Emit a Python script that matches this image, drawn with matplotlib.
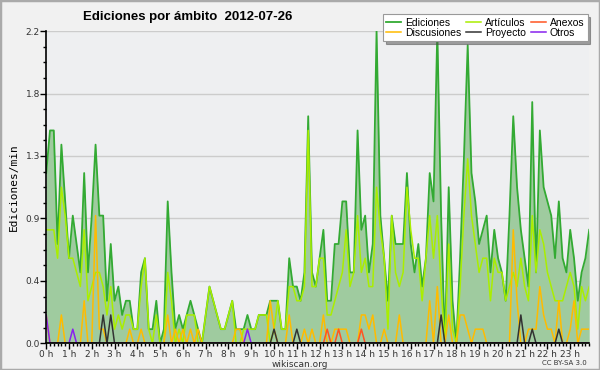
import numpy as np
import matplotlib
matplotlib.use('Agg')
import matplotlib.pyplot as plt
from matplotlib.patches import Rectangle
from matplotlib.ticker import MultipleLocator, FixedLocator

# edits per minute, one value every 10 minutes (144 per day)
ediciones = [1.2,1.5,1.5,0.7,1.4,1.0,0.6,0.9,0.7,0.5,1.2,0.5,
             0.9,1.4,0.9,0.9,0.3,0.7,0.3,0.4,0.2,0.3,0.3,0.1,
             0.1,0.5,0.6,0.1,0.1,0.3,0.0,0.1,1.0,0.5,0.1,0.2,
             0.1,0.2,0.3,0.2,0.1,0.0,0.2,0.4,0.3,0.2,0.1,0.1,
             0.2,0.3,0.1,0.1,0.1,0.2,0.1,0.1,0.2,0.2,0.2,0.3,
             0.3,0.3,0.1,0.1,0.6,0.4,0.4,0.3,0.5,1.6,0.5,0.4,
             0.6,0.8,0.3,0.3,0.7,0.7,1.0,1.0,0.5,0.5,1.5,0.8,
             0.9,0.5,0.7,2.2,0.9,0.6,0.3,0.9,0.7,0.7,0.7,1.2,
             0.7,0.5,0.7,0.4,0.6,1.2,1.0,2.2,0.9,0.0,1.1,0.3,
             0.0,0.6,1.3,2.1,1.2,1.0,0.7,0.8,0.9,0.5,0.8,0.6,
             0.5,0.3,0.9,1.6,1.1,0.8,0.6,0.4,1.7,0.5,1.5,1.1,
             1.0,0.9,0.6,1.0,0.6,0.5,0.8,0.6,0.3,0.5,0.6,0.8]

articulos = [0.8,0.8,0.8,0.6,1.1,0.9,0.6,0.6,0.5,0.4,0.8,0.3,
             0.4,0.5,0.5,0.4,0.2,0.4,0.1,0.2,0.1,0.2,0.2,0.1,
             0.1,0.4,0.6,0.1,0.0,0.2,0.0,0.0,0.5,0.3,0.0,0.1,
             0.0,0.2,0.2,0.2,0.0,0.0,0.2,0.4,0.3,0.2,0.1,0.1,
             0.2,0.3,0.0,0.0,0.1,0.1,0.1,0.1,0.2,0.2,0.2,0.0,
             0.1,0.3,0.1,0.1,0.4,0.4,0.3,0.3,0.4,1.5,0.4,0.4,
             0.6,0.6,0.2,0.2,0.3,0.4,0.5,0.8,0.4,0.5,0.9,0.5,
             0.6,0.4,0.4,1.1,0.8,0.6,0.1,0.9,0.5,0.4,0.5,1.1,
             0.8,0.6,0.6,0.3,0.6,0.9,0.6,0.9,0.4,0.0,0.7,0.1,
             0.0,0.4,0.9,1.3,0.9,0.7,0.5,0.6,0.6,0.3,0.6,0.5,
             0.5,0.3,0.4,0.5,0.4,0.6,0.4,0.3,0.9,0.5,0.8,0.7,
             0.5,0.4,0.3,0.3,0.3,0.4,0.5,0.4,0.1,0.4,0.3,0.4]

discusiones = [0.2,0,0,0,0.2,0,0,0,0,0,0.3,0,
               0,0.9,0.1,0.1,0,0,0,0,0,0,0.1,0,
               0,0.1,0,0,0,0,0,0,0.2,0,0.1,0,
               0.1,0,0.1,0,0.1,0,0,0,0,0,0,0,
               0,0,0.1,0.1,0,0,0,0,0,0,0,0.3,
               0.1,0,0,0,0.2,0,0,0,0.1,0,0.1,0,
               0,0.2,0,0,0.1,0.1,0.1,0.1,0,0,0,0.2,
               0.2,0.1,0.2,0,0,0.1,0,0,0,0.2,0,0,
               0,0,0,0,0,0.3,0,0.4,0,0,0.2,0,
               0,0.2,0.2,0.1,0,0.1,0.1,0.1,0,0,0,0,
               0,0,0,0.8,0.3,0,0,0.1,0.1,0.1,0.4,0.2,
               0.1,0.1,0,0.3,0,0,0.1,0.3,0,0.1,0.1,0.1]

# sparse series: slot index -> value
proyecto_idx = [15, 17, 60, 66, 104, 125, 128, 135]
proyecto_val = [0.2, 0.2, 0.1, 0.1, 0.2, 0.2, 0.1, 0.1]
anexos_idx = [74, 77, 83]
anexos_val = [0.1, 0.1, 0.1]
otros_idx = [0, 7, 53]
otros_val = [0.2, 0.1, 0.1]

hour_labels = ['%d h' % h for h in range(24)]
y_ticks = [0.0, 0.44, 0.88, 1.32, 1.76, 2.2]
y_labels = ['0.0', '0.4', '0.9', '1.3', '1.8', '2.2']

n = len(ediciones)
x = np.arange(n) / 6.0

def sparse(idx, val):
    s = np.zeros(n)
    s[idx] = val
    return s

proyecto = sparse(proyecto_idx, proyecto_val)
anexos = sparse(anexos_idx, anexos_val)
otros = sparse(otros_idx, otros_val)

fig = plt.figure(figsize=(6, 3.7), dpi=100, facecolor='#f1f1f1')
ax = fig.add_axes([0.077, 0.072, 0.905, 0.844])
ax.set_facecolor('#eeeff1')

ax.fill_between(x, ediciones, color='#9fcb9f', lw=0)
l1, = ax.plot(x, ediciones, color='#33aa33', lw=1.3, label='Ediciones')
l2, = ax.plot(x, articulos, color='#aaee00', lw=1.1, label='Artículos')
l3, = ax.plot(x, discusiones, color='#ffbb00', lw=1.1, label='Discusiones')
l4, = ax.plot(x, anexos, color='#ff5522', lw=1.1, label='Anexos')
l5, = ax.plot(x, proyecto, color='#333333', lw=1.1, label='Proyecto')
l6, = ax.plot(x, otros, color='#8822ee', lw=1.1, label='Otros')

ax.set_xlim(0, (n - 1) / 6.0)
ax.set_ylim(0, 2.2)
ax.set_xticks(range(24))
ax.set_xticklabels(hour_labels)
ax.xaxis.set_minor_locator(MultipleLocator(1 / 6.0))
ax.set_yticks(y_ticks)
ax.set_yticklabels(y_labels)
ax.yaxis.set_minor_locator(FixedLocator(np.arange(0, 2.2001, 0.11)))
ax.grid(axis='y', which='major', color='#cccccc', lw=1)
ax.set_axisbelow(True)
for s in ['top', 'right']:
    ax.spines[s].set_visible(False)
for s in ['left', 'bottom']:
    ax.spines[s].set_linewidth(1.2)
ax.tick_params(which='major', length=4, width=1, labelsize=6.5, pad=0.5, colors='#000000', labelcolor='#333333')
ax.tick_params(which='minor', length=2.5, width=1)
ax.set_ylabel('Ediciones/min', family='monospace', fontsize=8, labelpad=5)

fig.text(0.3125, 0.955, 'Ediciones por ámbito  2012-07-26', ha='center', va='center',
         fontsize=9.5, weight='bold', family='Liberation Sans')

leg = fig.legend(handles=[l1, l3, l2, l5, l4, l6], loc='upper right', bbox_to_anchor=(0.988, 0.975),
                 ncol=3, frameon=True, fancybox=False, shadow=True,
                 prop={'family': 'Liberation Sans', 'size': 7.5},
                 handlelength=1.4, handletextpad=0.4, columnspacing=0.5,
                 labelspacing=0.05, borderpad=0.3)
leg.get_frame().set_edgecolor('#999999')
leg.get_frame().set_linewidth(0.8)

fig.text(0.5, 0.016, 'wikiscan.org', ha='center', va='center', fontsize=6.5, color='#333333')
fig.text(0.978, 0.018, 'CC BY-SA 3.0', ha='right', va='center', fontsize=5, color='#333333')

fig.patches.append(Rectangle((0, 0), 1, 1, transform=fig.transFigure, fill=False,
                             edgecolor='#aaaaaa', lw=2.5))

plt.savefig('out.png', dpi=100, facecolor=fig.get_facecolor())
